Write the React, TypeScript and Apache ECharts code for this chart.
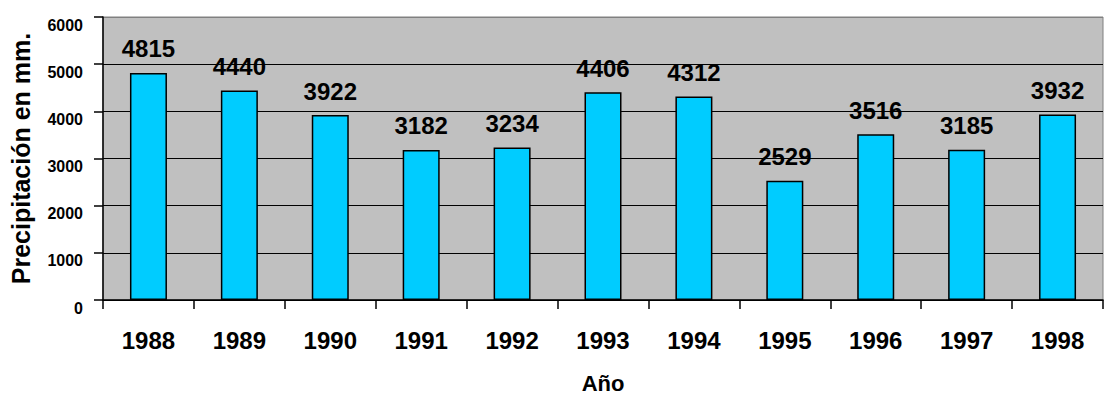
import React, { useEffect, useRef } from "react";
import * as echarts from "echarts";

const years = ["1988", "1989", "1990", "1991", "1992", "1993", "1994", "1995", "1996", "1997", "1998"];
const precipitation = [4815, 4440, 3922, 3182, 3234, 4406, 4312, 2529, 3516, 3185, 3932];
const yTicks = { min: 0, max: 6000, interval: 1000 };
const yName = "Precipitación en mm.";
const xName = "Año";

const FONT = "Arial, 'Liberation Sans', sans-serif";

export default function App() {
  const ref = useRef<HTMLDivElement>(null);
  useEffect(() => {
    if (!ref.current) return;
    const chart = echarts.init(ref.current, null, { renderer: "svg" });
    chart.setOption({
      animation: false,
      backgroundColor: "#ffffff",
      textStyle: { fontFamily: FONT },
      grid: {
        left: 103,
        right: 1,
        top: 17,
        bottom: 94,
        show: true,
        backgroundColor: "#C0C0C0",
        borderColor: "#808080",
        borderWidth: 1,
      },
      xAxis: {
        type: "category",
        data: years,
        name: xName,
        nameLocation: "middle",
        nameGap: 72,
        nameTextStyle: { fontFamily: FONT, fontWeight: "bold", fontSize: 22, color: "#000" },
        axisLine: { show: true, lineStyle: { color: "#000", width: 1.5 } },
        axisTick: { show: true, alignWithLabel: false, length: 9, lineStyle: { color: "#000", width: 1.5 } },
        axisLabel: { margin: 28, fontFamily: FONT, fontWeight: "bold", fontSize: 24, color: "#000", interval: 0 },
        splitLine: { show: false },
      },
      yAxis: {
        type: "value",
        min: yTicks.min,
        max: yTicks.max,
        interval: yTicks.interval,
        name: yName,
        nameLocation: "middle",
        nameRotate: 90,
        nameGap: 70,
        nameTextStyle: { fontFamily: FONT, fontWeight: "bold", fontSize: 25, color: "#000" },
        axisLine: { show: true, lineStyle: { color: "#000", width: 1.5 } },
        axisTick: { show: true, length: 9, lineStyle: { color: "#000", width: 1.5 } },
        axisLabel: {
          margin: 20,
          fontFamily: FONT,
          fontWeight: "bold",
          fontSize: 16,
          color: "#000",
          verticalAlign: "top",
          formatter: (v: number) => String(v),
        },
        splitLine: {
          show: true,
          lineStyle: { color: ["#000", "#000", "#000", "#000", "#000", "#000", "#808080"], width: 1 },
        },
      },
      series: [
        {
          type: "bar",
          data: precipitation,
          barWidth: 37,
          itemStyle: { color: "#00CCFF", borderColor: "#000", borderWidth: 1.5 },
          label: {
            show: true,
            position: "top",
            distance: 12,
            fontFamily: FONT,
            fontWeight: "bold",
            fontSize: 24,
            color: "#000",
          },
        },
      ],
    });
    return () => chart.dispose();
  }, []);
  return (
    <div
      ref={ref}
      style={{ position: "fixed", left: 0, top: 0, width: 1104, height: 399, background: "#fff" }}
    />
  );
}
